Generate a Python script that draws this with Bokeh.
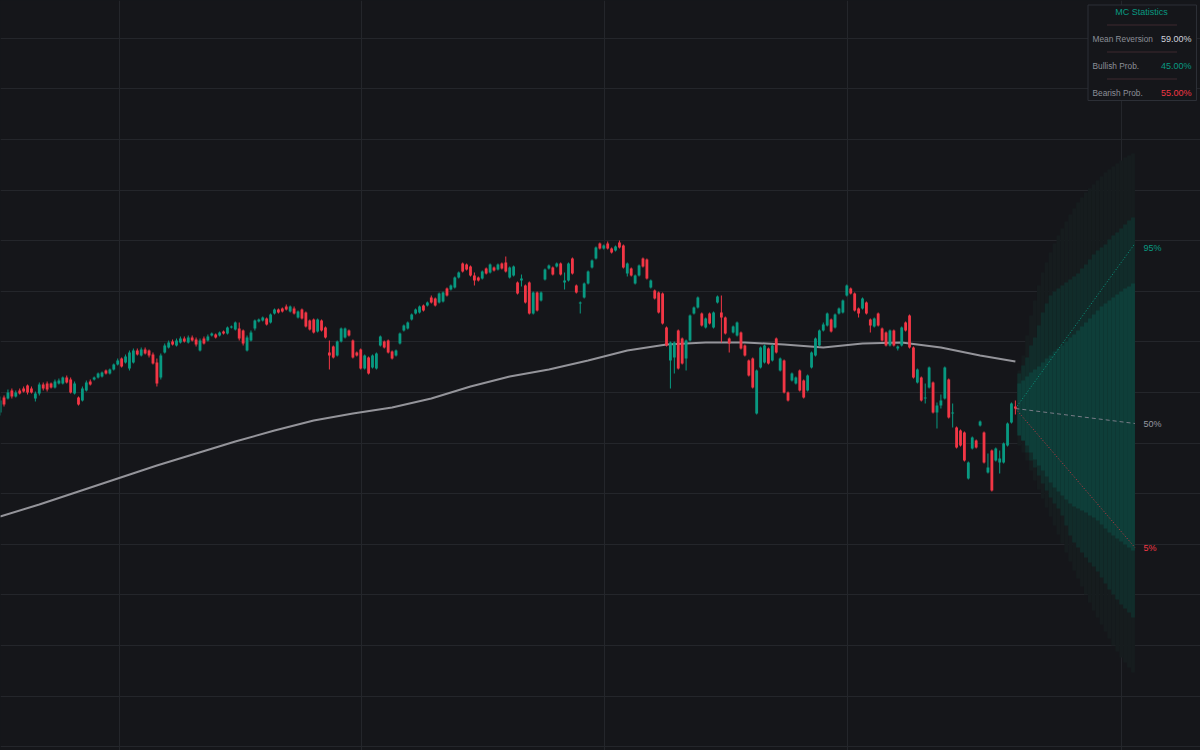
from bokeh.plotting import figure
from bokeh.models import Range1d, FixedTicker, Grid, Label
from bokeh.embed import file_html
from bokeh.resources import INLINE

# ---------------- data ----------------
opens = [588,603,602,610,604,610,612,615,612,602,
         607,616,617,617,613,617,617,623,621,607,
         603,600,610,619,621,623,624,630,627,631,
         636,642,638,632,638,650,645,651,650,646,
         638,623,648,653,659,655,658,662,658,663,
         661,650,662,660,665,666,665,669,667,673,
         671,672,670,650,660,672,679,680,682,678,
         687,691,692,694,689,692,683,691,688,680,
         681,669,680,673,648,654,645,659,663,670,
         660,648,651,632,643,633,632,655,659,660,
         649,645,657,670,672,681,687,688,695,695,
         703,702,698,699,712,711,713,723,737,736,
         734,725,723,722,732,728,733,731,737,738,
         723,725,718,720,715,718,687,708,700,721,
         732,733,734,737,718,720,742,715,697,703,
         717,733,742,757,752,757,752,750,758,755,
         727,732,717,725,742,741,713,710,708,707,
         673,640,643,670,662,642,660,687,693,687,
         673,687,673,698,688,683,662,668,665,668,
         655,640,642,587,633,638,652,640,662,630,
         640,608,620,617,630,620,610,633,645,655,
         670,675,681,673,687,688,705,712,707,692,
         692,698,681,674,687,672,668,655,670,652,
         655,678,685,653,618,623,602,613,618,588,
         595,602,621,587,573,570,568,522,552,560,
         575,568,528,550,540,538,538,555,578,594]
highs = [604,605,611,612,610,612,614,616,614,609,
         618,618,619,618,621,622,624,625,623,619,
         604,614,620,621,624,628,629,631,632,637,
         642,643,646,650,652,652,653,653,651,648,
         642,647,657,660,661,662,664,664,665,665,
         663,662,664,666,668,667,669,670,674,675,
         679,678,671,665,670,681,682,684,683,687,
         692,692,693,696,695,694,690,692,689,681,
         682,682,681,674,660,655,660,673,673,671,
         661,649,652,646,644,646,648,665,660,661,
         650,651,668,676,679,687,692,695,696,699,
         705,703,708,709,713,716,724,729,738,737,
         735,728,724,730,733,737,734,737,738,744,
         734,735,719,726,716,719,709,709,709,732,
         736,734,738,738,728,738,743,716,699,718,
         730,741,754,758,756,759,753,755,760,756,
         738,733,726,736,743,742,721,711,709,708,
         674,659,659,671,663,661,686,694,704,688,
         683,688,689,705,705,684,663,675,679,669,
         656,641,643,631,654,656,653,656,663,643,
         641,609,628,624,631,621,626,649,663,671,
         678,688,682,687,693,701,716,713,708,693,
         703,699,682,683,688,673,669,671,671,655,
         674,679,686,654,632,624,617,634,619,598,
         606,634,622,597,574,571,569,539,564,561,
         580,569,547,551,553,550,558,578,598,600]
lows = [585,594,601,602,603,606,608,606,607,599,
        605,610,609,612,612,616,616,617,607,606,
        595,599,609,615,620,622,623,626,626,630,
        635,633,637,630,637,645,644,646,643,636,
        614,621,647,652,655,654,657,658,657,659,
        654,649,656,659,664,662,664,666,666,672,
        670,660,655,649,659,670,678,679,675,677,
        686,687,688,690,688,686,682,681,673,670,
        667,668,669,662,631,642,644,658,662,664,
        642,644,631,631,626,632,631,654,652,647,
        641,644,656,669,671,680,686,687,689,694,
        697,694,697,698,704,710,712,722,728,730,
        724,715,719,721,726,727,729,730,731,728,
        722,724,706,714,697,686,686,689,699,720,
        731,725,733,725,711,719,726,707,687,702,
        716,732,741,751,751,751,747,749,752,732,
        724,724,716,724,733,721,712,701,687,676,
        654,612,627,631,636,630,659,686,692,674,
        672,676,672,697,658,666,648,667,664,651,
        644,624,612,586,632,637,636,639,647,629,
        607,599,619,616,609,602,609,632,644,654,
        669,674,668,672,686,687,704,706,689,683,
        691,686,668,673,674,659,654,654,654,650,
        654,669,652,622,617,599,597,612,587,572,
        592,601,582,573,552,554,539,521,551,552,
        574,537,527,509,539,527,537,554,577,586]
closes = [600,596,608,604,608,607,609,608,608,607,
          616,612,611,613,619,620,623,618,608,617,
          596,612,618,616,623,627,628,627,631,636,
          640,634,644,648,650,646,651,647,645,637,
          617,645,655,658,656,660,662,659,663,660,
          656,660,657,664,667,663,668,667,673,674,
          678,662,657,663,668,680,681,683,676,686,
          691,688,689,691,694,687,689,682,674,671,
          668,681,670,663,645,643,659,672,672,665,
          643,645,632,645,627,645,647,664,653,648,
          642,650,667,675,678,686,691,694,690,698,
          698,695,707,708,705,715,723,728,729,731,
          725,720,720,729,727,736,730,736,732,729,
          733,734,707,722,698,687,708,690,708,731,
          735,726,737,726,720,737,727,708,698,717,
          729,740,753,752,755,752,748,754,753,733,
          737,725,725,735,734,722,720,702,688,677,
          655,658,658,632,637,660,685,693,703,675,
          682,677,688,704,683,667,657,674,678,652,
          645,625,613,630,653,655,637,655,648,642,
          608,600,627,623,610,603,625,648,662,670,
          676,687,669,686,692,700,715,707,690,687,
          702,687,675,682,675,660,655,670,655,654,
          673,670,653,623,631,600,603,633,588,595,
          600,633,583,588,553,555,540,538,563,553,
          579,538,533,510,552,542,557,577,597,592]

# 200-period moving average, read every 10 bars
ma_bars = [0,10,20,30,40,50,60,70,80,90,100,110,120,130,140,150,160,170,180,190,200,210,220,230,240,250,259]
ma_vals = [484,496,509,522,535,547,559,570,580,587,593,602,614,624,631,640,650,656,658,658,656,653,657,658,653,645,639]

# Monte Carlo projection, per future step
mc_steps = list(range(1, 31))
mc_max   = [630,645,665,685,700,715,728,738,748,757,765,772,779,786,792,798,803,808,812,816,820,824,828,831,834,837,840,843,845,847]
mc_hi80  = [627,635,643,655,663,675,688,697,705,709,712,715,718,721,724,727,732,736,741,746,750,753,756,761,765,768,772,776,780,783]
mc_hi50  = [617,620,624,628,631,634,638,642,645,649,652,655,659,663,666,670,674,678,682,686,690,694,697,700,703,706,709,712,714,717]
mc_lo50  = [565,560,555,548,541,535,530,524,518,513,509,505,501,497,494,492,490,488,485,483,480,476,472,468,465,462,459,456,453,450]
mc_lo80  = [568,560,548,540,533,525,517,510,503,497,492,485,475,465,458,453,448,443,438,434,429,423,417,411,406,401,396,392,388,383]
mc_min   = [555,548,540,530,520,511,502,493,484,475,466,457,448,439,430,422,414,406,398,390,383,376,369,362,355,349,343,338,333,328]

pct_labels = ["95%", "50%", "5%"]
pct_end = [757, 577, 453]

stat_names = ["Mean Reversion", "Bullish Prob.", "Bearish Prob."]
stat_values = ["59.00%", "45.00%", "55.00%"]

# ---------------- style ----------------
BG = "#15161a"
UP = "#089981"
DN = "#f23645"
GRID = "#24262b"
FONT = "Liberation Sans"
PXU = 3.92           # pixels per bar
X0 = 0.102
XEND = X0 + 1200 / PXU

def X(px):
    return X0 + px / PXU

def Y(py):
    return 1000 - py

p = figure(width=1200, height=750, output_backend="svg", toolbar_location=None,
           x_range=Range1d(X0, XEND), y_range=Range1d(250, 1000),
           x_axis_location=None, y_axis_location=None, min_border=0,
           background_fill_color=BG, border_fill_color=BG, outline_line_color=None)
p.xgrid.visible = False
p.ygrid.visible = False

vticks = [X(118.5), X(361), X(604), X(847), X(1121)]
hticks = [Y(37.7 + 50.6 * k) for k in range(15)]
p.add_layout(Grid(dimension=0, ticker=FixedTicker(ticks=vticks), grid_line_color=GRID, grid_line_width=1))
p.add_layout(Grid(dimension=1, ticker=FixedTicker(ticks=hticks), grid_line_color=GRID, grid_line_width=1))

# ---- MC cone ----
last = len(closes) - 1
fx = [last + k for k in mc_steps]
lft = [x - 0.5 for x in fx]
rgt = [x + 0.5 for x in fx]
p.quad(left=lft, right=rgt, top=mc_max, bottom=mc_min, fill_color="#161c1e", line_color=None)
p.quad(left=lft, right=rgt, top=mc_hi80, bottom=mc_lo80, fill_color="#112c2a", line_color=None)
p.quad(left=lft, right=rgt, top=mc_hi50, bottom=mc_lo50, fill_color="#0e3e39", line_color=None)

# percentile lines
last_close = closes[-1]
end_x = last + mc_steps[-1] + 0.5
p.line([last, end_x], [last_close, pct_end[0]], line_color=UP, line_width=1, line_dash="1 2")
p.line([last, end_x], [last_close, pct_end[1]], line_color="#787b86", line_width=1, line_dash="4 3")
p.line([last, end_x], [last_close, pct_end[2]], line_color=DN, line_width=1, line_dash="1 2", line_alpha=0.8)

# ---- moving average ----
p.line(ma_bars, ma_vals, line_color="#94949a", line_width=2)

# ---- candles ----
idx = list(range(len(closes)))
cols = [UP if c >= o else DN for o, c in zip(opens, closes)]
btop = [max(o, c) for o, c in zip(opens, closes)]
bbot = [min(o, c) for o, c in zip(opens, closes)]
bbot = [b if t - b >= 1 else t - 1 for t, b in zip(btop, bbot)]
p.segment(x0=idx, y0=lows, x1=idx, y1=highs, line_color=cols, line_width=1)
p.vbar(x=idx, width=0.72, top=btop, bottom=bbot, fill_color=cols, line_color=None)

# percentile labels
pct_cols = [UP, "#9598a1", DN]
pct_label_y = [pct_end[0] - 4, pct_end[1], pct_end[2]]
for t, v, c in zip(pct_labels, pct_label_y, pct_cols):
    p.add_layout(Label(x=X(1143), y=v, text=t, text_color=c, text_font=FONT,
                       text_font_size="9px", text_baseline="middle", text_align="left"))

# ---- stats table (box and separators drawn last as glyphs) ----
p.quad(left=[X(1087.5)], right=[X(1196)], top=[Y(4.5)], bottom=[Y(100)],
       fill_color=BG, line_color="#2c2f36", line_width=1)
sep_y = [Y(24.5), Y(51.5), Y(78.5)]
p.segment(x0=[X(1107)] * 3, y0=sep_y, x1=[X(1176)] * 3, y1=sep_y,
          line_color="#6a3c44", line_width=1, line_dash="1 1")
p.add_layout(Label(x=X(1141), y=Y(11), text="MC Statistics", text_color=UP, text_font=FONT,
                   text_font_size="9px", text_baseline="middle", text_align="center"))
val_cols = ["#d1d4dc", UP, DN]
for k, (nm, vl, vc) in enumerate(zip(stat_names, stat_values, val_cols)):
    yy = Y(38 + 27 * k)
    p.add_layout(Label(x=X(1092), y=yy, text=nm, text_color="#8c8f98", text_font=FONT,
                       text_font_size="8.3px", text_baseline="middle", text_align="left"))
    p.add_layout(Label(x=X(1191), y=yy, text=vl, text_color=vc, text_font=FONT,
                       text_font_size="9px", text_baseline="middle", text_align="right"))

html = file_html(p, INLINE)
html = html.replace("<head>", "<head><style>html,body{margin:0;padding:0;background:#15161a;overflow:hidden;}</style>", 1)
open("out.html", "w").write(html)
